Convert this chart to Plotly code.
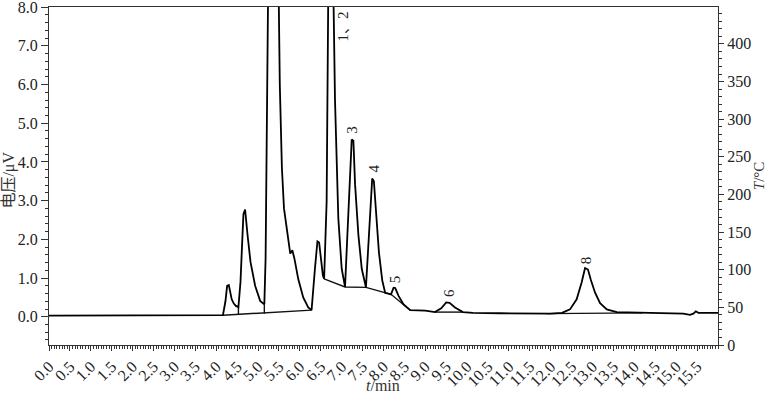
import plotly.graph_objects as go

# ---- chromatogram signal (t in min, voltage in µV) ----
time_min = [0.00, 1.00, 2.00, 3.00, 3.80, 4.16, 4.22, 4.26, 4.30, 4.33, 4.37, 4.42, 4.47, 4.53,
            4.58, 4.61, 4.65, 4.69, 4.72, 4.75, 4.82, 4.93, 5.05, 5.15,
            5.18, 5.22, 5.25, 5.36, 5.48, 5.52, 5.57, 5.62, 5.70, 5.77, 5.82, 5.87,
            5.96, 6.08, 6.20, 6.28, 6.36, 6.42, 6.46, 6.50, 6.55, 6.58, 6.64, 6.68, 6.74,
            6.80, 6.84, 6.92, 7.00, 7.08, 7.18, 7.24, 7.28, 7.32, 7.40, 7.48, 7.58,
            7.68, 7.73, 7.77, 7.82, 7.89, 7.97, 8.04, 8.18, 8.24, 8.28, 8.36, 8.48, 8.64,
            9.00, 9.23, 9.38, 9.50, 9.58, 9.71, 9.90, 10.14, 10.79, 11.50, 11.99, 12.27,
            12.46, 12.62, 12.74, 12.82, 12.89, 12.96, 13.06, 13.18, 13.34, 13.58, 13.90,
            14.69, 15.17, 15.33, 15.41, 15.47, 15.53, 16.00]
voltage_uv = [0.03, 0.03, 0.03, 0.03, 0.03, 0.04, 0.40, 0.80, 0.82, 0.62, 0.45, 0.34, 0.28, 0.25,
              0.90, 1.67, 2.65, 2.77, 2.50, 2.10, 1.41, 0.80, 0.41, 0.32,
              1.50, 6.00, 9.50, 14.0, 9.50, 6.00, 3.85, 2.80, 2.10, 1.63, 1.72, 1.50,
              0.98, 0.50, 0.24, 0.17, 1.24, 1.95, 1.92, 1.59, 1.07, 0.98, 2.98, 8.50, 12.0,
              8.50, 5.60, 2.54, 1.24, 0.77, 2.98, 4.58, 4.55, 3.42, 2.11, 1.24, 0.76,
              2.54, 3.57, 3.50, 2.80, 1.67, 0.94, 0.62, 0.58, 0.75, 0.74, 0.54, 0.32, 0.17,
              0.16, 0.12, 0.22, 0.37, 0.36, 0.24, 0.12, 0.10, 0.09, 0.08, 0.08, 0.10,
              0.19, 0.45, 0.89, 1.26, 1.22, 0.95, 0.62, 0.35, 0.19, 0.12, 0.11,
              0.10, 0.08, 0.05, 0.08, 0.14, 0.10, 0.10]

# ---- integration baselines / drop lines (None separates segments) ----
base_t = [4.16, 6.28, None, 4.53, 4.53, None, 5.15, 5.15, None,
          6.58, 7.08, 7.58, 8.18, 8.64, None, 9.23, 9.90, None, 11.90, 14.20]
base_v = [0.04, 0.17, None, 0.05, 0.25, None, 0.08, 0.32, None,
          0.98, 0.77, 0.76, 0.58, 0.17, None, 0.12, 0.12, None, 0.08, 0.10]

# ---- peak labels ----
peak_names = ["1、2", "3", "4", "5", "6", "8"]
peak_t = [7.02, 7.26, 7.75, 8.26, 9.55, 12.85]
peak_v = [7.49, 4.82, 3.83, 0.98, 0.62, 1.47]

# ---- tick labels ----
x_ticks = [0.0, 0.5, 1.0, 1.5, 2.0, 2.5, 3.0, 3.5, 4.0, 4.5, 5.0, 5.5, 6.0, 6.5, 7.0, 7.5,
           8.0, 8.5, 9.0, 9.5, 10.0, 10.5, 11.0, 11.5, 12.0, 12.5, 13.0, 13.5, 14.0, 14.5,
           15.0, 15.5]
y_ticks = [0.0, 1.0, 2.0, 3.0, 4.0, 5.0, 6.0, 7.0, 8.0]
temp_ticks = [0, 50, 100, 150, 200, 250, 300, 350, 400]

FONT = "Liberation Serif, Times New Roman, Noto Sans CJK SC, serif"
AX = "#333333"

fig = go.Figure()
fig.add_trace(go.Scatter(x=base_t, y=base_v, mode="lines",
                         line=dict(color="#111111", width=1.4),
                         showlegend=False, hoverinfo="skip"))
fig.add_trace(go.Scatter(x=time_min, y=voltage_uv, mode="lines",
                         line=dict(color="#000000", width=1.8),
                         showlegend=False))
# empty trace to activate the temperature axis
fig.add_trace(go.Scatter(x=[None], y=[None], yaxis="y2", showlegend=False))

for name, t, v in zip(peak_names, peak_t, peak_v):
    fig.add_annotation(x=t, y=v, text=name, showarrow=False, textangle=-90,
                       font=dict(family=FONT, size=15, color="#222222"))

fig.update_layout(
    width=769, height=396,
    margin=dict(l=49, r=51, t=7, b=51, autoexpand=False),
    paper_bgcolor="white", plot_bgcolor="white",
    font=dict(family=FONT, size=16, color="#222222"),
    xaxis=dict(range=[0, 16], tickmode="array", tickvals=x_ticks, automargin=False,
               ticktext=[f"{v:.1f}" for v in x_ticks], tickangle=-45,
               showline=True, linecolor=AX, linewidth=1, mirror=True,
               ticks="outside", ticklen=5, tickcolor=AX, showgrid=False, zeroline=False,
               minor=dict(tickmode="linear", tick0=0, dtick=0.0625, ticks="outside",
                          ticklen=3, tickcolor=AX, showgrid=False)),
    yaxis=dict(range=[-0.73, 8.003], tickmode="array", tickvals=y_ticks, automargin=False,
               ticktext=[f"{v:.1f}" for v in y_ticks], ticklabeloverflow="allow",
               showline=True, linecolor=AX, linewidth=1,
               ticks="outside", ticklen=7, tickcolor=AX, showgrid=False, zeroline=False,
               minor=dict(tickmode="linear", tick0=0, dtick=0.2, ticks="outside",
                          ticklen=3, tickcolor=AX, showgrid=False)),
    yaxis2=dict(range=[0, 449], overlaying="y", side="right", tickmode="array",
                tickvals=temp_ticks, ticktext=[str(v) for v in temp_ticks], automargin=False,
                showline=True, linecolor=AX, linewidth=1,
                ticks="outside", ticklen=5, tickcolor=AX, showgrid=False, zeroline=False,
                minor=dict(tickmode="linear", tick0=0, dtick=10, ticks="outside",
                           ticklen=3, tickcolor=AX, showgrid=False)),
)

fig.add_annotation(xref="paper", yref="paper", x=-0.0590, y=0.488, text="电压/μV",
                   xanchor="center", yanchor="middle",
                   textangle=-90, showarrow=False, font=dict(family=FONT, size=16, color="#333333"))
fig.add_annotation(xref="paper", yref="paper", x=1.0615, y=0.50, text="<i>T</i>/°C",
                   xanchor="center", yanchor="middle",
                   textangle=-90, showarrow=False, font=dict(family=FONT, size=15, color="#333333"))
fig.add_annotation(xref="paper", yref="paper", x=0.4993, y=-0.1213, text="<i>t</i>/min",
                   xanchor="center", yanchor="middle",
                   showarrow=False, font=dict(family=FONT, size=16, color="#333333"))

# the page body has a default 8px margin; remove it so the figure fills the window
fig.write_html("out.html", config={"displayModeBar": False},
               post_script="document.body.style.margin='0px';")
